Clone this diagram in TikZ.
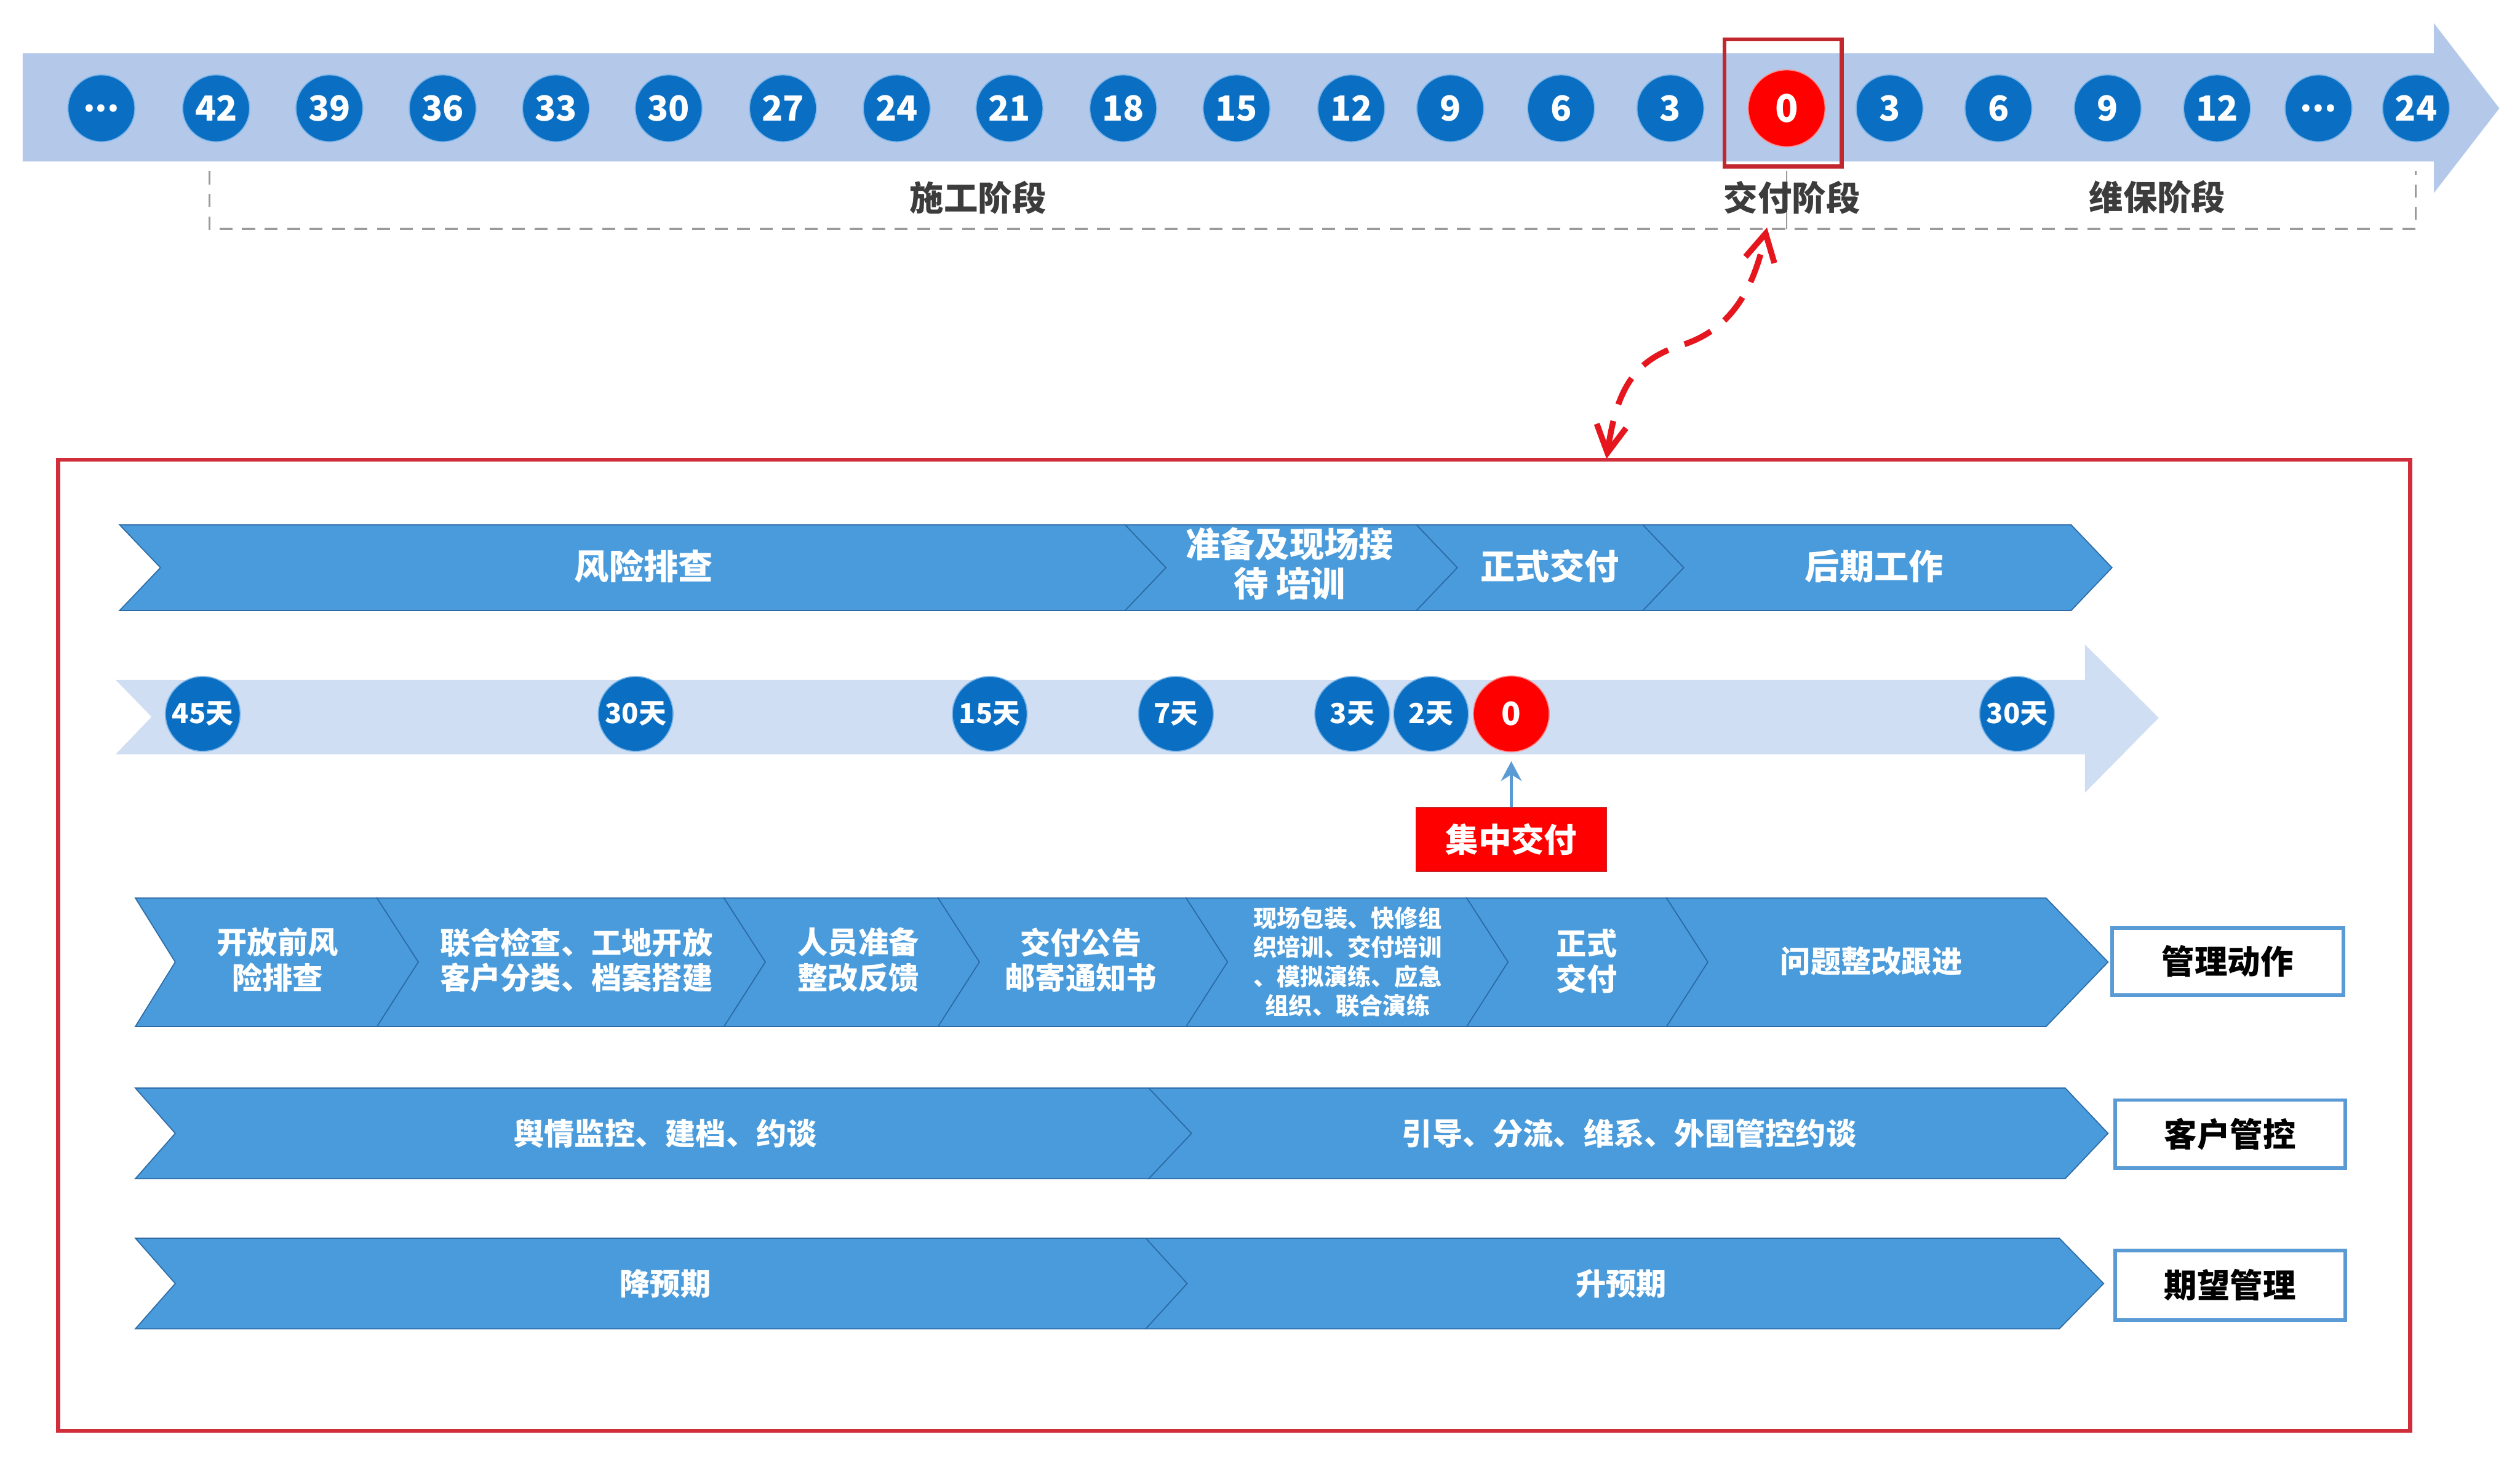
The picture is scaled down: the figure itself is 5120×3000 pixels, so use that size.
\documentclass[tikz,border=0pt]{standalone}
\usepackage{fontspec}
\setmainfont{Noto Sans CJK SC}
\usepackage{tikz}
\usetikzlibrary{shapes.geometric, arrows, arrows.meta, positioning}

\definecolor{bandtop}{HTML}{B4C8EA}
\definecolor{bandmid}{HTML}{CFDEF2}
\definecolor{circblue}{HTML}{0A6FC2}
\definecolor{circedge}{HTML}{7FB6E8}
\definecolor{chevfill}{HTML}{4A9BDB}
\definecolor{chevline}{HTML}{2C6BA6}
\definecolor{framered}{HTML}{D02E3A}
\definecolor{boxred}{HTML}{C1272D}
\definecolor{dashred}{HTML}{E5161D}
\definecolor{tagblue}{HTML}{5B9BD5}
\definecolor{textgray}{HTML}{3C3C3C}
\definecolor{bracketgray}{HTML}{9A9A9A}

\tikzstyle{numblue} = [circle, minimum size=1.36cm, inner sep=0pt, fill=circblue, draw=circedge, line width=0.6pt, text=white, font=\fontsize{20}{24}\selectfont\bfseries]
\tikzstyle{numred} = [circle, minimum size=1.56cm, inner sep=0pt, fill=red, draw=red!45, line width=0.6pt, text=white, font=\fontsize{22}{26}\selectfont\bfseries]
\tikzstyle{dayblue} = [circle, minimum size=1.52cm, inner sep=0pt, fill=circblue, draw=circedge, line width=0.6pt, text=white, font=\fontsize{16}{19}\selectfont\bfseries]
\tikzstyle{dayred} = [circle, minimum size=1.54cm, inner sep=0pt, fill=red, draw=red!45, line width=0.6pt, text=white, font=\fontsize{18.5}{22}\selectfont\bfseries]
\tikzstyle{redbox} = [rectangle, draw=boxred, line width=2.3pt, inner sep=0pt]
\tikzstyle{phaselabel} = [text=textgray, font=\fontsize{19.7}{23}\selectfont\bfseries]
\tikzstyle{bracket} = [draw=bracketgray, line width=1.1pt, dash pattern=on 7.5pt off 5.5pt]
\tikzstyle{chev} = [fill=chevfill, draw=chevline, line width=0.6pt, line join=miter]
\tikzstyle{chevtext} = [text=white, align=center, font=\fontsize{20}{22.5}\selectfont\bfseries]
\tikzstyle{chevsmall} = [text=white, align=center, font=\fontsize{17.5}{20.5}\selectfont\bfseries]
\tikzstyle{chevtiny} = [text=white, align=center, font=\fontsize{13.6}{16.8}\selectfont\bfseries]
\tikzstyle{redtag} = [rectangle, minimum width=3.87cm, minimum height=1.30cm, fill=red, draw=boxred, line width=0.6pt, text=white, font=\fontsize{19}{23}\selectfont\bfseries]
\tikzstyle{tagbox} = [rectangle, minimum width=4.70cm, minimum height=1.36cm, fill=white, draw=tagblue, line width=2pt, text=black, font=\fontsize{19}{23}\selectfont\bfseries]
\tikzstyle{arrowred} = [draw=dashred, line width=3.4pt, dash pattern=on 17pt off 10pt, <->, >={Straight Barb[length=5.5mm,width=6mm]}]
\tikzstyle{arrowblue} = [draw=tagblue, line width=2pt, ->, >={Stealth[length=4mm,width=4.2mm]}, shorten >=0.18cm]

\begin{document}
\begin{tikzpicture}[x=0.01cm, y=-0.01cm]
            \useasboundingbox (0,0) rectangle (5120,3000);
            \fill [white] (0,0) rectangle (5120,3000);

            % Month band
            \fill [bandtop] (46,108) -- (4945,108) -- (4945,47) -- (5078,220) -- (4945,392) -- (4945,328) -- (46,328) -- cycle;

            \node (tdots) [numblue] at (206,220) {...};
            \node (t42) [numblue, right of=tdots, node distance=2.33cm] {42};
            \node (t39) [numblue, right of=t42, node distance=2.30cm] {39};
            \node (t36) [numblue, right of=t39, node distance=2.30cm] {36};
            \node (t33) [numblue, right of=t36, node distance=2.30cm] {33};
            \node (t30) [numblue, right of=t33, node distance=2.29cm] {30};
            \node (t27) [numblue, right of=t30, node distance=2.32cm] {27};
            \node (t24) [numblue, right of=t27, node distance=2.31cm] {24};
            \node (t21) [numblue, right of=t24, node distance=2.29cm] {21};
            \node (t18) [numblue, right of=t21, node distance=2.31cm] {18};
            \node (t15) [numblue, right of=t18, node distance=2.30cm] {15};
            \node (t12) [numblue, right of=t15, node distance=2.33cm] {12};
            \node (t9) [numblue, right of=t12, node distance=2.01cm] {9};
            \node (t6) [numblue, right of=t9, node distance=2.25cm] {6};
            \node (t3) [numblue, right of=t6, node distance=2.22cm] {3};
            \node (t0) [numred, right of=t3, node distance=2.36cm] {0};
            \node (a3) [numblue, right of=t0, node distance=2.09cm] {3};
            \node (a6) [numblue, right of=a3, node distance=2.21cm] {6};
            \node (a9) [numblue, right of=a6, node distance=2.22cm] {9};
            \node (a12) [numblue, right of=a9, node distance=2.22cm] {12};
            \node (adots) [numblue, right of=a12, node distance=2.06cm] {...};
            \node (a24) [numblue, right of=adots, node distance=1.98cm] {24};

            \node (t0box) [redbox, minimum width=2.38cm, minimum height=2.58cm] at (3623,209) {};

            % Phases
            \draw [bracket] (426,348) -- (426,465) -- (4908,465) -- (4908,348);
            \draw [bracketgray, line width=0.5pt] (3630,348) -- (3630,465);
            \node (lbuild) [phaselabel] at (1987,402) {施工阶段};
            \node (ldeliver) [phaselabel] at (3641,402) {交付阶段};
            \node (lkeep) [phaselabel] at (4383,400) {维保阶段};

            % Zoom link
            \coordinate (upEnd) at (3590,462);
            \coordinate (lowEnd) at (3264,932);
            \draw [arrowred] (lowEnd) .. controls (3285,790) and (3320,730) .. (3420,700) .. controls (3510,670) and (3560,600) .. (upEnd);

            \draw [framered, line width=2.3pt] (118,934) rectangle (4897,2906);

            % Stage row
            \draw [chev] (243,1066) -- (2286,1066) -- (2369,1153) -- (2286,1240) -- (243,1240) -- (326,1153) -- cycle;
            \draw [chev] (2286,1066) -- (2878,1066) -- (2961,1153) -- (2878,1240) -- (2286,1240) -- (2369,1153) -- cycle;
            \draw [chev] (2878,1066) -- (3338,1066) -- (3421,1153) -- (3338,1240) -- (2878,1240) -- (2961,1153) -- cycle;
            \draw [chev] (3338,1066) -- (4208,1066) -- (4291,1153) -- (4208,1240) -- (3338,1240) -- (3421,1153) -- cycle;
            \node (srisk) [chevtext] at (1308,1150) {风险排查};
            \node (sprep) [chevtext] at (2620,1145) {准备及现场接\\待 培训};
            \node (sformal) [chevtext] at (3149,1150) {正式交付};
            \node (slater) [chevtext] at (3808,1150) {后期工作};

            % Day band
            \fill [bandmid] (235,1381) -- (4236,1381) -- (4236,1309) -- (4386,1458) -- (4236,1610) -- (4236,1532) -- (235,1532) -- (308,1456) -- cycle;

            \node (d45) [dayblue] at (412,1450) {45天};
            \node (d30) [dayblue, right of=d45, node distance=8.79cm] {30天};
            \node (d15) [dayblue, right of=d30, node distance=7.19cm] {15天};
            \node (d7) [dayblue, right of=d15, node distance=3.78cm] {7天};
            \node (d3) [dayblue, right of=d7, node distance=3.58cm] {3天};
            \node (d2) [dayblue, right of=d3, node distance=1.60cm] {2天};
            \node (d0) [dayred, right of=d2, node distance=1.63cm] {0};
            \node (dafter) [dayblue, right of=d0, node distance=10.27cm] {30天};

            \node (jz) [redtag, below of=d0, node distance=2.55cm] {集中交付};
            \draw [arrowblue] (jz) -- (d0);

            % Action row
            \draw [chev] (275,1824) -- (766,1824) -- (850,1954) -- (766,2085) -- (275,2085) -- (356,1954) -- cycle;
            \draw [chev] (766,1824) -- (1471,1824) -- (1555,1954) -- (1471,2085) -- (766,2085) -- (850,1954) -- cycle;
            \draw [chev] (1471,1824) -- (1906,1824) -- (1990,1954) -- (1906,2085) -- (1471,2085) -- (1555,1954) -- cycle;
            \draw [chev] (1906,1824) -- (2410,1824) -- (2494,1954) -- (2410,2085) -- (1906,2085) -- (1990,1954) -- cycle;
            \draw [chev] (2410,1824) -- (2980,1824) -- (3064,1954) -- (2980,2085) -- (2410,2085) -- (2494,1954) -- cycle;
            \draw [chev] (2980,1824) -- (3386,1824) -- (3470,1954) -- (3386,2085) -- (2980,2085) -- (3064,1954) -- cycle;
            \draw [chev] (3386,1824) -- (4157,1824) -- (4283,1954) -- (4157,2085) -- (3386,2085) -- (3470,1954) -- cycle;
            \node (aopen) [chevsmall] at (564,1950) {开放前风\\险排查};
            \node (acheck) [chevsmall] at (1171,1950) {联合检查、工地开放\\客户分类、档案搭建};
            \node (astaff) [chevsmall] at (1744,1950) {人员准备\\整改反馈};
            \node (anotice) [chevsmall] at (2196,1950) {交付公告\\邮寄通知书};
            \node (atrain) [chevtiny] at (2738,1954) {现场包装、快修组\\织培训、交付培训\\、模拟演练、应急\\组织、联合演练};
            \node (aformal) [chevsmall] at (3224,1952) {正式\\交付};
            \node (afix) [chevsmall] at (3802,1952) {问题整改跟进};
            \node (mgmt) [tagbox] at (4526,1953) {管理动作};

            % Customer row
            \draw [chev] (275,2210) -- (2334,2210) -- (2421,2302) -- (2334,2394) -- (275,2394) -- (356,2302) -- cycle;
            \draw [chev] (2334,2210) -- (4196,2210) -- (4283,2302) -- (4196,2394) -- (2334,2394) -- (2421,2302) -- cycle;
            \node (cwatch) [chevsmall] at (1352,2302) {舆情监控、建档、约谈};
            \node (cguide) [chevsmall] at (3310,2302) {引导、分流、维系、外围管控约谈};
            \node (cust) [tagbox, below of=mgmt, node distance=3.50cm, xshift=0.05cm, minimum width=4.67cm, minimum height=1.38cm] {客户管控};

            % Expectation row
            \draw [chev] (275,2515) -- (2328,2515) -- (2412,2607) -- (2328,2699) -- (275,2699) -- (356,2607) -- cycle;
            \draw [chev] (2328,2515) -- (4184,2515) -- (4274,2607) -- (4184,2699) -- (2328,2699) -- (2412,2607) -- cycle;
            \node (elow) [chevsmall] at (1352,2607) {降预期};
            \node (ehigh) [chevsmall] at (3294,2607) {升预期};
            \node (expect) [tagbox, below of=cust, node distance=3.07cm, minimum width=4.67cm, minimum height=1.41cm] {期望管理};

        \end{tikzpicture}
\end{document}
